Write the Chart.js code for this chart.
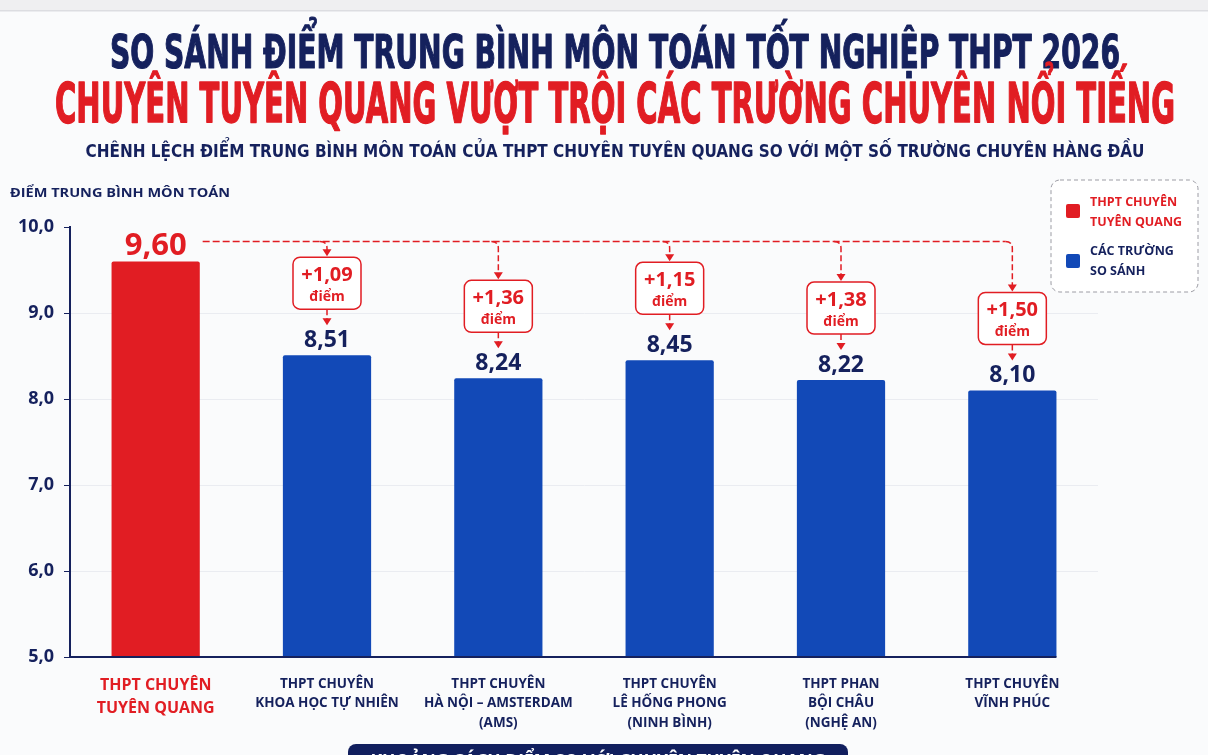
<!DOCTYPE html>
<html lang="vi">
<head>
<meta charset="utf-8">
<title>So sánh điểm trung bình môn Toán</title>
<script src="https://cdn.jsdelivr.net/npm/chart.js@4.4.1/dist/chart.umd.min.js"></script>
<style>
  html, body { margin: 0; padding: 0; background: #fafbfc; }
  #wrap { width: 1208px; height: 755px; position: relative; }
</style>
</head>
<body>
<div id="wrap"><canvas id="diemChart"></canvas></div>
<script>
// Du lieu bieu do
const schools = [
    ['THPT CHUYÊN', 'TUYÊN QUANG'],
    ['THPT CHUYÊN', 'KHOA HỌC TỰ NHIÊN'],
    ['THPT CHUYÊN', 'HÀ NỘI – AMSTERDAM', '(AMS)'],
    ['THPT CHUYÊN', 'LÊ HỐNG PHONG', '(NINH BÌNH)'],
    ['THPT PHAN', 'BỘI CHÂU', '(NGHỆ AN)'],
    ['THPT CHUYÊN', 'VĨNH PHÚC']
];
const scores = [9.60, 8.51, 8.24, 8.45, 8.22, 8.10];
const yTicks = [5, 6, 7, 8, 9, 10];

const RED = '#e11d23';
const BLUE = '#1249b7';
const NAVY = '#15215d';
const FONT = '"Open Sans", "DejaVu Sans", sans-serif';
const NARROW = '"Liberation Sans Narrow", "DejaVu Sans Condensed", sans-serif';

function fmt(v, d) {
    return v.toFixed(d).replace('.', ',');
}

// Ve chu co gian ngang cho vua be rong
function fitText(ctx, text, cx, y, w, font, color, stroke) {
    ctx.save();
    ctx.font = font;
    ctx.fillStyle = color;
    ctx.textAlign = 'center';
    ctx.textBaseline = 'alphabetic';
    const m = ctx.measureText(text).width;
    ctx.translate(cx, y);
    ctx.scale(w / m, 1);
    ctx.fillText(text, 0, 0);
    if (stroke) {
        ctx.strokeStyle = color;
        ctx.lineWidth = stroke;
        ctx.lineJoin = 'round';
        ctx.strokeText(text, 0, 0);
    }
    ctx.restore();
}

function arrowHead(ctx, x, tipY) {
    ctx.beginPath();
    ctx.moveTo(x - 4.5, tipY - 7);
    ctx.lineTo(x + 4.5, tipY - 7);
    ctx.lineTo(x, tipY);
    ctx.closePath();
    ctx.fill();
}

const decorPlugin = {
    id: 'decor',
    beforeDraw(chart) {
        const ctx = chart.ctx;
        ctx.save();
        ctx.fillStyle = '#fafbfc';
        ctx.fillRect(0, 0, chart.width, chart.height);
        ctx.fillStyle = '#efeff1';
        ctx.fillRect(0, 0, chart.width, 10);
        ctx.fillStyle = '#dcdde1';
        ctx.fillRect(0, 10, chart.width, 1.5);
        ctx.restore();
    },
    afterDatasetsDraw(chart) {
        const ctx = chart.ctx;
        const bars = chart.getDatasetMeta(0).data;
        const area = chart.chartArea;

        // truc x den het cot cuoi
        const last = bars[bars.length - 1];
        ctx.save();
        ctx.strokeStyle = NAVY;
        ctx.lineWidth = 2;
        ctx.beginPath();
        ctx.moveTo(area.left - 1, area.bottom);
        ctx.lineTo(last.x + last.width / 2, area.bottom);
        ctx.stroke();

        // nhan 9,60
        const top0 = bars[0].y;
        ctx.fillStyle = RED;
        ctx.font = 'bold 31px ' + FONT;
        ctx.textAlign = 'center';
        ctx.textBaseline = 'alphabetic';
        ctx.fillText(fmt(scores[0], 2), bars[0].x, top0 - 6);
        const lineY = top0 - 20;
        const r = 7;

        // duong ngang net dut
        ctx.strokeStyle = RED;
        ctx.lineWidth = 1.5;
        ctx.setLineDash([7, 3]);
        ctx.beginPath();
        ctx.moveTo(bars[0].x + 47, lineY);
        ctx.lineTo(last.x - r, lineY);
        ctx.stroke();

        for (let i = 1; i < bars.length; i++) {
            const b = bars[i];
            const labelBase = b.y - 8;
            const tip = labelBase - 22;
            const boxBottom = tip - 16;
            const boxTop = boxBottom - 52;

            ctx.setLineDash([6, 3]);
            ctx.beginPath();
            ctx.moveTo(b.x - r, lineY);
            ctx.quadraticCurveTo(b.x, lineY, b.x, lineY + r);
            ctx.lineTo(b.x, boxTop - 6);
            ctx.stroke();
            ctx.beginPath();
            ctx.moveTo(b.x, boxBottom);
            ctx.lineTo(b.x, tip - 6);
            ctx.stroke();
            ctx.setLineDash([]);
            ctx.fillStyle = RED;
            arrowHead(ctx, b.x, boxTop - 1);
            arrowHead(ctx, b.x, tip);

            // hop chenh lech
            ctx.beginPath();
            ctx.roundRect(b.x - 34, boxTop, 68, 52, 7);
            ctx.fillStyle = '#ffffff';
            ctx.fill();
            ctx.strokeStyle = RED;
            ctx.lineWidth = 1.5;
            ctx.stroke();
            ctx.fillStyle = RED;
            ctx.font = 'bold 20px ' + FONT;
            ctx.fillText('+' + fmt(scores[0] - scores[i], 2), b.x, boxTop + 24);
            ctx.font = 'bold 14px ' + FONT;
            ctx.fillText('điểm', b.x, boxTop + 44);

            // nhan gia tri
            ctx.fillStyle = NAVY;
            ctx.font = 'bold 23px ' + FONT;
            ctx.fillText(fmt(scores[i], 2), b.x, labelBase);
        }
        ctx.restore();
    },
    afterDraw(chart) {
        const ctx = chart.ctx;
        // tieu de
        fitText(ctx, 'SO SÁNH ĐIỂM TRUNG BÌNH MÔN TOÁN TỐT NGHIỆP THPT 2026', 615, 68, 1010,
            'bold 46px ' + NARROW, NAVY, 1.2);
        fitText(ctx, 'CHUYÊN TUYÊN QUANG VƯỢT TRỘI CÁC TRƯỜNG CHUYÊN NỔI TIẾNG', 615, 122, 1120,
            'bold 55px ' + NARROW, RED, 1.4);
        fitText(ctx, 'CHÊNH LỆCH ĐIỂM TRUNG BÌNH MÔN TOÁN CỦA THPT CHUYÊN TUYÊN QUANG SO VỚI MỘT SỐ TRƯỜNG CHUYÊN HÀNG ĐẦU',
            615, 157, 1059, 'bold 18px ' + NARROW, NAVY);
        // tieu de truc y
        fitText(ctx, 'ĐIỂM TRUNG BÌNH MÔN TOÁN', 120, 197, 220, 'bold 13px ' + FONT, NAVY);

        // chu giai
        ctx.save();
        ctx.beginPath();
        ctx.roundRect(1051, 180, 147, 112, 9);
        ctx.fillStyle = '#ffffff';
        ctx.fill();
        ctx.setLineDash([4, 3]);
        ctx.strokeStyle = '#9c9ca4';
        ctx.lineWidth = 1;
        ctx.stroke();
        ctx.setLineDash([]);
        ctx.fillStyle = RED;
        ctx.beginPath();
        ctx.roundRect(1066, 204, 14, 14, 2);
        ctx.fill();
        ctx.fillStyle = BLUE;
        ctx.beginPath();
        ctx.roundRect(1066, 254, 14, 14, 2);
        ctx.fill();
        ctx.font = 'bold 12.5px ' + FONT;
        ctx.textAlign = 'left';
        ctx.fillStyle = RED;
        ctx.fillText('THPT CHUYÊN', 1090, 206);
        ctx.fillText('TUYÊN QUANG', 1090, 226);
        ctx.fillStyle = NAVY;
        ctx.fillText('CÁC TRƯỜNG', 1090, 255);
        ctx.fillText('SO SÁNH', 1090, 275);

        // bang duoi cung (bi cat)
        ctx.beginPath();
        ctx.roundRect(348, 744, 500, 40, 8);
        ctx.fillStyle = '#111f5e';
        ctx.fill();
        ctx.restore();
        fitText(ctx, 'KHOẢNG CÁCH ĐIỂM SO VỚI CHUYÊN TUYÊN QUANG', 598, 768, 455, 'bold 20px ' + FONT, '#ffffff');
    }
};

const ctx = document.getElementById('diemChart').getContext('2d');
new Chart(ctx, {
    type: 'bar',
    data: {
        labels: schools,
        datasets: [{
            label: 'Điểm trung bình môn Toán',
            data: scores,
            backgroundColor: scores.map((v, i) => i === 0 ? RED : BLUE),
            borderRadius: 2,
            borderSkipped: 'bottom',
            barPercentage: 0.515,
            categoryPercentage: 1
        }]
    },
    options: {
        responsive: true,
        maintainAspectRatio: false,
        animation: false,
        layout: {
            padding: { top: 227, right: 110, left: 0, bottom: 0 }
        },
        plugins: {
            legend: { display: false },
            title: { display: false },
            tooltip: { enabled: false }
        },
        scales: {
            x: {
                afterFit: function(scale) { scale.height = 98; },
                border: { display: false },
                grid: { display: false },
                ticks: {
                    padding: 9,
                    maxRotation: 0,
                    autoSkip: false,
                    color: c => c.index === 0 ? RED : NAVY,
                    font: c => c.index === 0
                        ? { family: FONT, size: 16, weight: 'bold', lineHeight: 1.45 }
                        : { family: FONT, size: 13.5, weight: 'bold', lineHeight: 1.45 }
                }
            },
            y: {
                min: yTicks[0],
                max: yTicks[yTicks.length - 1],
                afterFit: function(scale) { scale.width = 70; },
                afterBuildTicks: function(scale) {
                    scale.ticks = yTicks.map(v => ({ value: v }));
                },
                border: { color: NAVY, width: 2 },
                grid: {
                    color: c => (c.tick && (c.tick.value === 10 || c.tick.value === 5)) ? 'rgba(0,0,0,0)' : '#eaecf1',
                    tickColor: NAVY,
                    tickLength: 6
                },
                ticks: {
                    padding: 10,
                    color: NAVY,
                    font: { family: FONT, size: 18, weight: 'bold' },
                    callback: v => fmt(v, 1)
                }
            }
        }
    },
    plugins: [decorPlugin]
});
</script>
</body>
</html>
